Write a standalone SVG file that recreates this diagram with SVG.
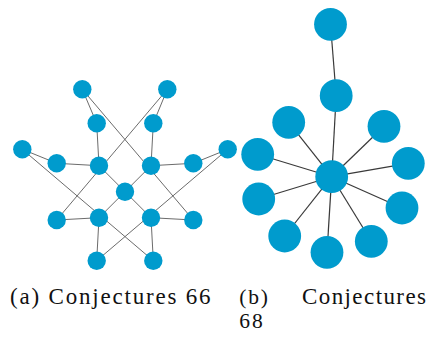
<svg xmlns="http://www.w3.org/2000/svg" width="429" height="339" viewBox="0 0 429 339">
  <style>
    .n { fill: #009bcd; }
    .ea { stroke: #5a5a5a; stroke-width: 0.9; fill: none; }
    .eb { stroke: #3a3a3a; stroke-width: 1.2; fill: none; }
    text.cap { font-family: "Liberation Serif", "Times New Roman", "DejaVu Serif", serif; font-size: 21.5px; fill: #111; }
    text.big { font-size: 23px; }
  </style>
  <rect width="429" height="339" fill="#ffffff"/>

  <!-- (a) connectors -->
  <g id="edges-a" class="ea">
    <line x1="82.3" y1="89.3" x2="96.7" y2="123.3"/>
    <line x1="82.3" y1="89.3" x2="193.3" y2="220"/>
    <line x1="167.3" y1="89.3" x2="153.3" y2="123.3"/>
    <line x1="167.3" y1="89.3" x2="56.7" y2="220"/>
    <line x1="96.7" y1="123.3" x2="99" y2="165.7"/>
    <line x1="153.3" y1="123.3" x2="151" y2="165.7"/>
    <line x1="22.3" y1="149.3" x2="56.7" y2="163.3"/>
    <line x1="22.3" y1="149.3" x2="153.3" y2="260.7"/>
    <line x1="56.7" y1="163.3" x2="99" y2="165.7"/>
    <line x1="227.7" y1="149.3" x2="193.3" y2="163.3"/>
    <line x1="227.7" y1="149.3" x2="96.7" y2="260.7"/>
    <line x1="193.3" y1="163.3" x2="151" y2="165.7"/>
    <line x1="99" y1="165.7" x2="125" y2="191.7"/>
    <line x1="151" y1="165.7" x2="125" y2="191.7"/>
    <line x1="125" y1="191.7" x2="99" y2="217.7"/>
    <line x1="125" y1="191.7" x2="151" y2="217.7"/>
    <line x1="56.7" y1="220" x2="99" y2="217.7"/>
    <line x1="151" y1="217.7" x2="193.3" y2="220"/>
    <line x1="99" y1="217.7" x2="96.7" y2="260.7"/>
    <line x1="151" y1="217.7" x2="153.3" y2="260.7"/>
  </g>

  <!-- (a) nodes -->
  <g id="a1"><circle class="n" cx="82.3" cy="89.3" r="9.2"/></g>
  <g id="a2"><circle class="n" cx="167.3" cy="89.3" r="9.2"/></g>
  <g id="a3"><circle class="n" cx="96.7" cy="123.3" r="9.2"/></g>
  <g id="a4"><circle class="n" cx="153.3" cy="123.3" r="9.2"/></g>
  <g id="a5"><circle class="n" cx="22.3" cy="149.3" r="9.2"/></g>
  <g id="a6"><circle class="n" cx="56.7" cy="163.3" r="9.2"/></g>
  <g id="a7"><circle class="n" cx="99" cy="165.7" r="9.2"/></g>
  <g id="a8"><circle class="n" cx="151" cy="165.7" r="9.2"/></g>
  <g id="a9"><circle class="n" cx="193.3" cy="163.3" r="9.2"/></g>
  <g id="a10"><circle class="n" cx="227.7" cy="149.3" r="9.2"/></g>
  <g id="a11"><circle class="n" cx="125" cy="191.7" r="9.2"/></g>
  <g id="a12"><circle class="n" cx="56.7" cy="220" r="9.2"/></g>
  <g id="a13"><circle class="n" cx="99" cy="217.7" r="9.2"/></g>
  <g id="a14"><circle class="n" cx="151" cy="217.7" r="9.2"/></g>
  <g id="a15"><circle class="n" cx="193.3" cy="220" r="9.2"/></g>
  <g id="a16"><circle class="n" cx="96.7" cy="260.7" r="9.2"/></g>
  <g id="a17"><circle class="n" cx="153.3" cy="260.7" r="9.2"/></g>

  <!-- (b) connectors -->
  <g id="edges-b" class="eb">
    <line x1="330.5" y1="24.3" x2="336.2" y2="95.7"/>
    <line x1="336.2" y1="95.7" x2="331.7" y2="176.7"/>
    <line x1="331.7" y1="176.7" x2="288.7" y2="122.3"/>
    <line x1="331.7" y1="176.7" x2="384" y2="126.3"/>
    <line x1="331.7" y1="176.7" x2="257.7" y2="154.3"/>
    <line x1="331.7" y1="176.7" x2="408.3" y2="163.3"/>
    <line x1="331.7" y1="176.7" x2="258.7" y2="199"/>
    <line x1="331.7" y1="176.7" x2="402" y2="208"/>
    <line x1="331.7" y1="176.7" x2="284.7" y2="236"/>
    <line x1="331.7" y1="176.7" x2="327" y2="252.3"/>
    <line x1="331.7" y1="176.7" x2="371.3" y2="241.3"/>
  </g>

  <!-- (b) nodes -->
  <g id="b1"><circle class="n" cx="330.5" cy="24.3" r="16.4"/></g>
  <g id="b2"><circle class="n" cx="336.2" cy="95.7" r="16.4"/></g>
  <g id="b3"><circle class="n" cx="331.7" cy="176.7" r="16.4"/></g>
  <g id="b4"><circle class="n" cx="288.7" cy="122.3" r="16.4"/></g>
  <g id="b5"><circle class="n" cx="384" cy="126.3" r="16.4"/></g>
  <g id="b6"><circle class="n" cx="257.7" cy="154.3" r="16.4"/></g>
  <g id="b7"><circle class="n" cx="408.3" cy="163.3" r="16.4"/></g>
  <g id="b8"><circle class="n" cx="258.7" cy="199" r="16.4"/></g>
  <g id="b9"><circle class="n" cx="402" cy="208" r="16.4"/></g>
  <g id="b10"><circle class="n" cx="284.7" cy="236" r="16.4"/></g>
  <g id="b11"><circle class="n" cx="327" cy="252.3" r="16.4"/></g>
  <g id="b12"><circle class="n" cx="371.3" cy="241.3" r="16.4"/></g>

  <!-- captions -->
  <g id="captions">
    <text class="cap big" x="10" y="303.5" textLength="200.5">(a) Conjectures 66</text>
    <text class="cap" x="239.3" y="303.5" textLength="28.5">(b)</text>
    <text class="cap big" x="302" y="303.5" textLength="124">Conjectures</text>
    <text class="cap" x="239.3" y="327.5" textLength="23.5">68</text>
  </g>
</svg>
